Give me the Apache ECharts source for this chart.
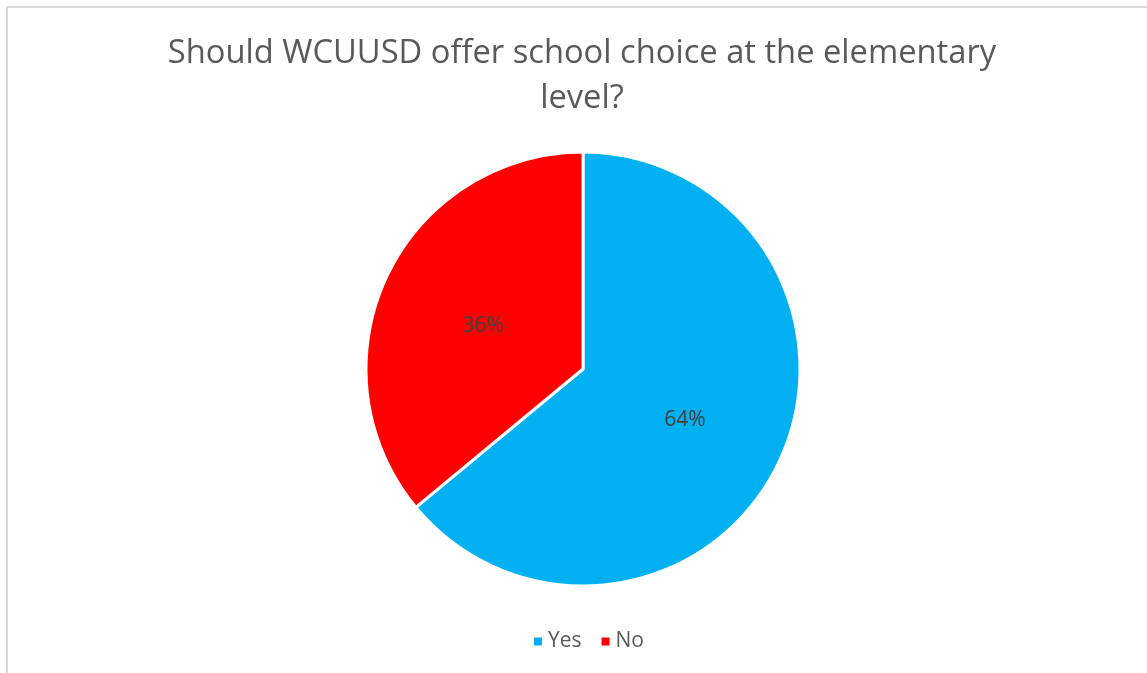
<!DOCTYPE html>
<html lang="en">
<head>
  <meta charset="UTF-8">
  <title>School choice</title>
  <script src="https://cdn.jsdelivr.net/npm/echarts@6/dist/echarts.min.js"></script>
  <style>
    html, body { margin: 0; padding: 0; background: #fff; }
    #frame { position: absolute; left: 6px; top: 6px; width: 1160px; height: 700px; border: 2px solid #d9d9d9; box-sizing: border-box; }
    #chart { position: absolute; left: 0; top: 0; width: 1147px; height: 673px; }
  </style>
</head>
<body>
<div id="frame"></div>
<div id="chart"></div>
<script>
  // answers and share of responses
  let categories = ['Yes', 'No']
  let values = [64, 36]
  let colors = ['#00b0f0', '#ff0000']
  let titleText = 'Should WCUUSD offer school choice at the elementary\nlevel?'

  let myChart = echarts.init(document.getElementById('chart'))
  let option = {
    backgroundColor: 'transparent',
    title: {
      text: titleText,
      left: 577,
      textAlign: 'center',
      top: 26,
      textStyle: {
        fontFamily: 'Open Sans',
        fontWeight: 'normal',
        fontSize: 32.7,
        lineHeight: 45,
        color: '#595959'
      }
    },
    legend: {
      bottom: 16,
      left: 527,
      icon: 'rect',
      itemWidth: 10,
      itemHeight: 10,
      itemGap: 18,
      textStyle: { fontFamily: 'Open Sans', fontSize: 21, color: '#595959' },
      data: categories
    },
    series: [{
      type: 'pie',
      center: [583, 369],
      radius: 217,
      startAngle: 90,
      clockwise: true,
      avoidLabelOverlap: false,
      label: {
        show: true,
        position: 'inside',
        formatter: '{d}%',
        offset: [1, 4],
        fontFamily: 'Open Sans',
        fontSize: 21,
        color: '#404040'
      },
      labelLine: { show: false },
      itemStyle: { borderColor: '#fff', borderWidth: 3 },
      emphasis: { disabled: true },
      data: categories.map((c, i) => ({ name: c, value: values[i], itemStyle: { color: colors[i] } }))
    }]
  }
  myChart.setOption(option)
</script>
</body>
</html>
